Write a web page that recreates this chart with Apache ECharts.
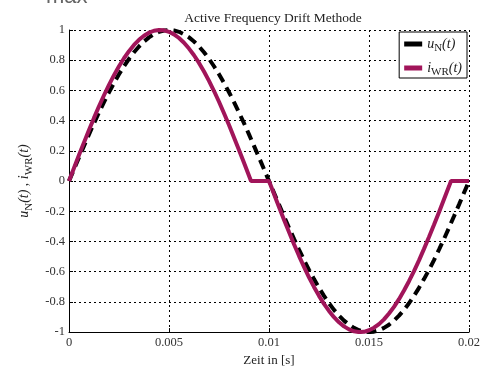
<!DOCTYPE html>
<html><head><meta charset="utf-8">
<script src="https://cdn.jsdelivr.net/npm/echarts@6/dist/echarts.min.js"></script>
<style>html,body{margin:0;padding:0;background:#fff}#c{width:487px;height:372px}</style>
</head><body><div id="c"></div>
<script>
// time axis (s), step 0.00025
const tU = [];
for (let k = 0; k <= 80; k++) tU.push(+(k * 0.00025).toFixed(5));
// u_N(t) values
const uN = [0,0.078,0.156,0.233,0.309,0.383,0.454,0.523,0.588,0.649,0.707,0.760,0.809,0.853,0.891,0.924,0.951,0.972,0.988,0.997,1,
0.997,0.988,0.972,0.951,0.924,0.891,0.853,0.809,0.760,0.707,0.649,0.588,0.523,0.454,0.383,0.309,0.233,0.156,0.078,0,
-0.078,-0.156,-0.233,-0.309,-0.383,-0.454,-0.523,-0.588,-0.649,-0.707,-0.760,-0.809,-0.853,-0.891,-0.924,-0.951,-0.972,-0.988,-0.997,-1,
-0.997,-0.988,-0.972,-0.951,-0.924,-0.891,-0.853,-0.809,-0.760,-0.707,-0.649,-0.588,-0.523,-0.454,-0.383,-0.309,-0.233,-0.156,-0.078,0];
// i_WR(t) time points and values
const tI = [0,0.00025,0.0005,0.00075,0.001,0.00125,0.0015,0.00175,0.002,0.00225,0.0025,0.00275,0.003,0.00325,0.0035,0.00375,0.004,0.00425,0.0045,0.00475,0.005,0.00525,0.0055,0.00575,0.006,0.00625,0.0065,0.00675,0.007,0.00725,0.0075,0.00775,0.008,0.00825,0.0085,0.00875,0.009,0.0091,
0.01,0.01025,0.0105,0.01075,0.011,0.01125,0.0115,0.01175,0.012,0.01225,0.0125,0.01275,0.013,0.01325,0.0135,0.01375,0.014,0.01425,0.0145,0.01475,0.015,0.01525,0.0155,0.01575,0.016,0.01625,0.0165,0.01675,0.017,0.01725,0.0175,0.01775,0.018,0.01825,0.0185,0.01875,0.019,0.0191,0.02];
const iWR = [0,0.086,0.172,0.256,0.338,0.418,0.495,0.568,0.637,0.701,0.760,0.813,0.860,0.901,0.935,0.962,0.982,0.995,1.0,0.998,0.988,0.971,0.947,0.916,0.877,0.833,0.782,0.725,0.663,0.596,0.525,0.449,0.371,0.289,0.206,0.121,0.035,0,
0,-0.086,-0.172,-0.256,-0.338,-0.418,-0.495,-0.568,-0.637,-0.701,-0.760,-0.813,-0.860,-0.901,-0.935,-0.962,-0.982,-0.995,-1.0,-0.998,-0.988,-0.971,-0.947,-0.916,-0.877,-0.833,-0.782,-0.725,-0.663,-0.596,-0.525,-0.449,-0.371,-0.289,-0.206,-0.121,-0.035,0,0];
const xTicks = ['0','0.005','0.01','0.015','0.02'];
const yTicks = ['-1','-0.8','-0.6','-0.4','-0.2','0','0.2','0.4','0.6','0.8','1'];
const titleText = 'Active Frequency Drift Methode';
const xName = 'Zeit in [s]';

const serif = '"Liberation Serif","DejaVu Serif",serif';
const magenta = '#A1155A';
const chart = echarts.init(document.getElementById('c'));
function rich(fs, sub, drop) {
  return {
    i: {fontFamily: serif, fontStyle: 'italic', fontSize: fs, color: '#222'},
    n: {fontFamily: serif, fontStyle: 'italic', fontSize: fs, color: '#222'},
    p: {fontFamily: serif, fontSize: fs, color: '#222'},
    s: {fontFamily: serif, fontSize: sub, color: '#222', padding: [drop, 0, 0, 0]}
  };
}
chart.setOption({
  animation: false,
  backgroundColor: '#fff',
  title: {text: titleText, left: 268, top: 6, textAlign: 'center',
    textStyle: {fontFamily: serif, fontSize: 13.5, fontWeight: 'normal', color: '#222'}},
  graphic: [{type: 'text', left: 46, top: -14, style: {text: 'max', fontFamily: '"Liberation Sans",sans-serif', fontSize: 22, fill: '#666'}}],
  grid: {left: 69, right: 18, top: 30, bottom: 29},
  legend: {
    right: 20, top: 32, orient: 'vertical', itemGap: 4, itemWidth: 18, itemHeight: 5,
    backgroundColor: '#fff', borderColor: '#000', borderWidth: 1, borderRadius: 0, padding: [2, 5, 0, 5],
    icon: 'rect',
    data: [{name: 'uN'}, {name: 'iWR'}],
    formatter: function (n) { return n === 'uN' ? '{i|u}{s|N}{n|(t)}' : '{i|i}{s|WR}{n|(t)}'; },
    textStyle: {rich: rich(14, 11, 9), lineHeight: 20}
  },
  xAxis: {
    type: 'value', min: 0, max: 0.02, interval: 0.005,
    name: xName, nameLocation: 'middle', nameGap: 20,
    nameTextStyle: {fontFamily: serif, fontSize: 13, color: '#222'},
    axisLine: {onZero: false, lineStyle: {color: '#000', width: 1}},
    axisTick: {inside: true, length: 4, lineStyle: {color: '#000'}},
    axisLabel: {margin: 4, fontFamily: serif, fontSize: 12.5, color: '#333',
      formatter: function (v) { return xTicks[Math.round(v / 0.005)]; }},
    splitLine: {show: true, lineStyle: {color: '#000', type: [2, 3], width: 1}}
  },
  yAxis: {
    type: 'value', min: -1, max: 1, interval: 0.2,
    name: '{i|u}{s|N}{n|(t)}{p| , }{i|i}{s|WR}{n|(t)}', nameLocation: 'middle', nameGap: 32, nameRotate: 90,
    nameTextStyle: {rich: rich(14, 11, 9)},
    axisLine: {onZero: false, lineStyle: {color: '#000', width: 1}},
    axisTick: {inside: true, length: 4, lineStyle: {color: '#000'}},
    axisLabel: {margin: 4, fontFamily: serif, fontSize: 12.5, color: '#333',
      formatter: function (v) { return yTicks[Math.round((v + 1) / 0.2)]; }},
    splitLine: {show: true, lineStyle: {color: '#000', type: [2, 3], width: 1}}
  },
  series: [
    {name: 'uN', type: 'line', showSymbol: false, symbol: 'none', color: '#000',
      lineStyle: {color: '#000', width: 4, type: [10, 6]},
      data: tU.map((t, k) => [t, uN[k]])},
    {name: 'iWR', type: 'line', showSymbol: false, symbol: 'none', color: magenta,
      lineStyle: {color: magenta, width: 4},
      data: tI.map((t, k) => [t, iWR[k]])}
  ]
});
</script></body></html>
